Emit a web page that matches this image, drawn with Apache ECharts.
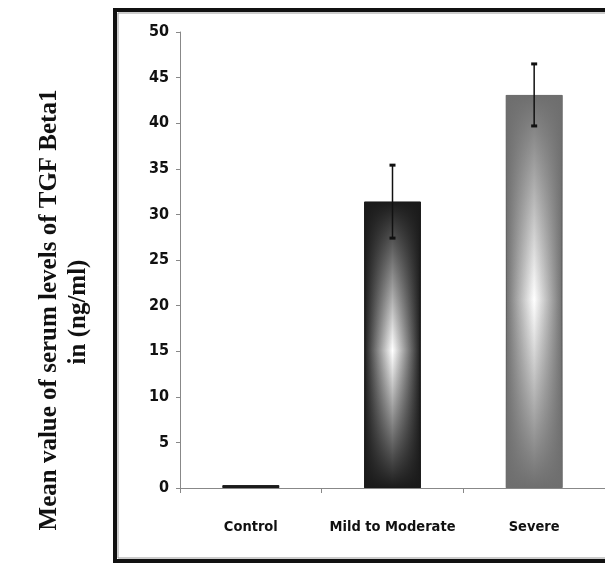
<!DOCTYPE html>
<html><head><meta charset="utf-8">
<script src="https://cdn.jsdelivr.net/npm/echarts@6/dist/echarts.min.js"></script>
<style>html,body{margin:0;padding:0;background:#fff}#c{width:605px;height:566px}</style>
</head><body><div id="c"></div>
<script>
const categories = ['Control', 'Mild to Moderate', 'Severe'];
const means = [0.3, 31.4, 43.1];
const errors = [0, 4.0, 3.4];
const yTicks = [0, 5, 10, 15, 20, 25, 30, 35, 40, 45, 50];
const edgeColors = ['#1a1a1a', '#1a1a1a', '#6e6e6e'];

const chart = echarts.init(document.getElementById('c'), null, {renderer: 'canvas'});
const narrow = '"DejaVu Sans Condensed", "Liberation Sans Narrow", "Arial Narrow", sans-serif';

function hGrad(c) {
  return {type: 'linear', x: 0, y: 0, x2: 1, y2: 0,
    colorStops: [{offset: 0, color: c}, {offset: 0.5, color: '#ffffff'}, {offset: 1, color: c}]};
}
function vGrad(c) {
  const rgb = echarts.color.parse(c);
  const a = (al) => 'rgba(' + rgb[0] + ',' + rgb[1] + ',' + rgb[2] + ',' + al + ')';
  return {type: 'linear', x: 0, y: 0, x2: 0, y2: 1,
    colorStops: [{offset: 0, color: a(1)}, {offset: 0.52, color: a(0)}, {offset: 1, color: a(1)}]};
}

const baseData = means.map((v, i) => ({
  value: v,
  itemStyle: {color: i === 0 ? edgeColors[i] : hGrad(edgeColors[i]), borderColor: i === 2 ? '#555' : '#111', borderWidth: 1}
}));
const overData = means.map((v, i) => ({
  value: v,
  itemStyle: {color: i === 0 ? edgeColors[i] : vGrad(edgeColors[i])}
}));

chart.setOption({
  animation: false,
  grid: {left: 180, top: 32, width: 433, height: 456, containLabel: false},
  xAxis: {
    type: 'category', data: categories, boundaryGap: true,
    axisLine: {lineStyle: {color: '#888', width: 1}},
    axisTick: {show: true, interval: 0, length: 5, lineStyle: {color: '#888'}},
    axisLabel: {interval: 0, margin: 32, fontFamily: narrow, fontWeight: 'bold', fontSize: 14.5, color: '#111'}
  },
  yAxis: {
    type: 'value', min: 0, max: 50, interval: 5,
    axisLine: {show: true, lineStyle: {color: '#888', width: 1}},
    axisTick: {show: true, inside: false, length: 4, lineStyle: {color: '#888'}},
    splitLine: {show: false},
    axisLabel: {margin: 11, fontFamily: narrow, fontWeight: 'bold', fontSize: 16, color: '#111',
      formatter: (v) => yTicks.includes(v) ? String(v) : ''}
  },
  graphic: [
    {type: 'rect', shape: {x: 115, y: 10, width: 520, height: 551}, z: 0,
      style: {fill: 'none', stroke: '#111', lineWidth: 4}},
    {type: 'rect', shape: {x: 118, y: 13, width: 520, height: 545}, z: 0,
      style: {fill: 'none', stroke: '#999', lineWidth: 1}},
    {type: 'text', x: 50, y: 310, rotation: Math.PI / 2, z: 5,
      style: {text: 'Mean value of serum levels of TGF Beta1', font: 'bold 25px "Liberation Serif", "Times New Roman", serif',
        fill: '#111', align: 'center', verticalAlign: 'middle'}},
    {type: 'text', x: 79, y: 312, rotation: Math.PI / 2, z: 5,
      style: {text: 'in (ng/ml)', font: 'bold 25px "Liberation Serif", "Times New Roman", serif',
        fill: '#111', align: 'center', verticalAlign: 'middle'}}
  ],
  series: [
    {type: 'bar', data: baseData, barWidth: '40%', z: 2},
    {type: 'bar', data: overData, barWidth: '40%', barGap: '-100%', z: 3},
    {type: 'custom', z: 10,
      data: means.map((v, i) => [i, v - errors[i], v + errors[i]]),
      renderItem: function (params, api) {
        if (errors[params.dataIndex] === 0) return null;
        const lo = api.coord([api.value(0), api.value(1)]);
        const hi = api.coord([api.value(0), api.value(2)]);
        const w = 3;
        const st = {stroke: '#111', lineWidth: 1.5};
        return {type: 'group', children: [
          {type: 'line', shape: {x1: lo[0], y1: lo[1], x2: hi[0], y2: hi[1]}, style: st},
          {type: 'line', shape: {x1: lo[0] - w, y1: lo[1], x2: lo[0] + w, y2: lo[1]}, style: {stroke: '#111', lineWidth: 3}},
          {type: 'line', shape: {x1: hi[0] - w, y1: hi[1], x2: hi[0] + w, y2: hi[1]}, style: {stroke: '#111', lineWidth: 3}}
        ]};
      }
    }
  ]
});
</script></body></html>
